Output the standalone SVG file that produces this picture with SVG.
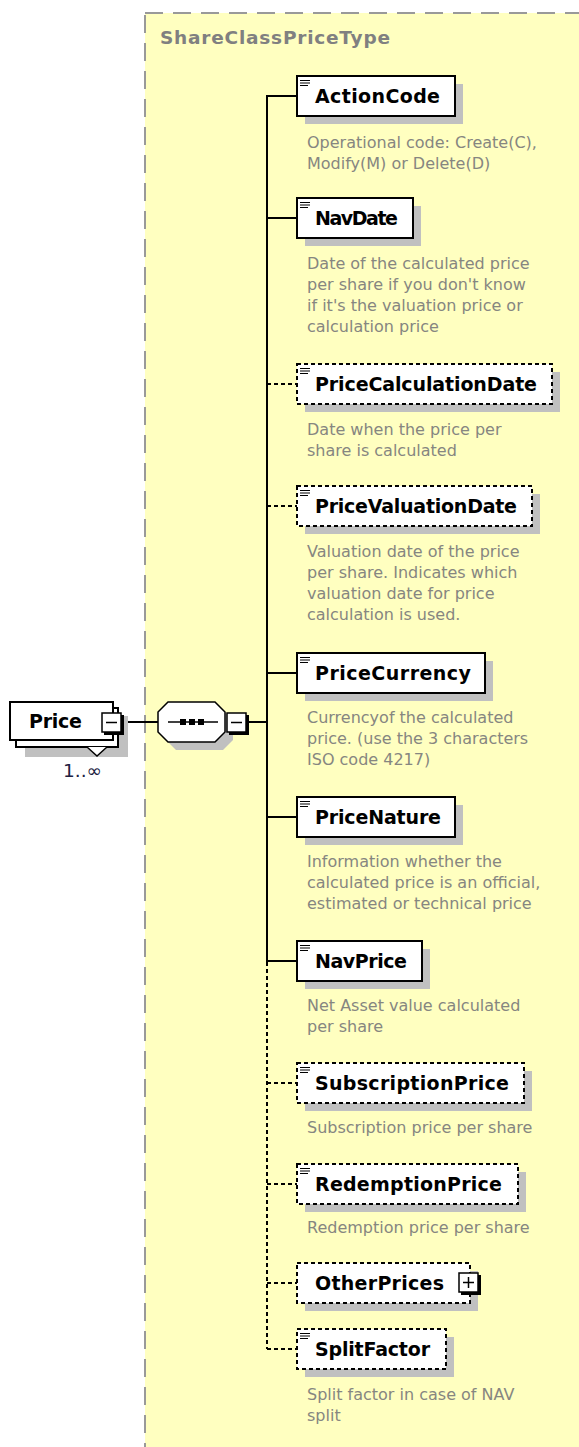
<svg xmlns="http://www.w3.org/2000/svg" width="579" height="1447" viewBox="0 0 579 1447">
<defs>
<style>
.bg{fill:#FFFFC0;stroke:#999999;stroke-width:2;stroke-dasharray:18,10}
.title{font-family:"DejaVu Sans",sans-serif;font-weight:bold;font-size:18.5px;fill:#808080}
.box{fill:#FFFFFF;stroke:#000000;stroke-width:2}
.opt{fill:#FFFFFF;stroke:#000000;stroke-width:2;stroke-dasharray:4,3}
.shadow{fill:#C0C0C0}
.name{font-family:"DejaVu Sans",sans-serif;font-weight:bold;font-size:19px;fill:#000000}
.desc{font-family:"DejaVu Sans",sans-serif;font-size:16px;fill:#868680}
.icon{stroke:#000000;stroke-width:1.2}
.line{stroke:#000000;stroke-width:2;fill:none}
.dline{stroke:#000000;stroke-width:2;fill:none;stroke-dasharray:4,3}
.small{fill:#FFFFFF;stroke:#000000;stroke-width:1.5}
.occ{font-family:"DejaVu Sans",sans-serif;font-size:18px;fill:#202040}
</style>
</defs>

<rect class="bg" x="145" y="13" width="450" height="1450"/>
<text class="title" x="160" y="44" textLength="230" lengthAdjust="spacing">ShareClassPriceType</text>

<g id="connectors">
<line class="line" x1="123" y1="722" x2="158" y2="722"/>
<line class="line" x1="248" y1="722" x2="267" y2="722"/>
<line class="line" x1="267" y1="96" x2="267" y2="962"/>
<line class="dline" x1="267" y1="962" x2="267" y2="1349"/>
<line class="line" x1="266" y1="96" x2="297" y2="96"/>
<line class="line" x1="266" y1="218" x2="297" y2="218"/>
<line class="dline" x1="267" y1="384" x2="297" y2="384"/>
<line class="dline" x1="267" y1="506" x2="297" y2="506"/>
<line class="line" x1="266" y1="673" x2="297" y2="673"/>
<line class="line" x1="266" y1="817" x2="297" y2="817"/>
<line class="line" x1="266" y1="961" x2="297" y2="961"/>
<line class="dline" x1="267" y1="1083" x2="297" y2="1083"/>
<line class="dline" x1="267" y1="1184" x2="297" y2="1184"/>
<line class="dline" x1="267" y1="1283" x2="297" y2="1283"/>
<line class="dline" x1="267" y1="1349" x2="297" y2="1349"/>
</g>

<g id="price">
<rect class="shadow" x="25" y="716" width="103" height="41"/>
<rect class="box" x="16" y="708" width="102" height="39"/>
<polyline points="87,747 97,756 107,747" fill="#FFFFFF" stroke="#000000" stroke-width="1.5"/>
<rect class="box" x="10" y="702" width="103" height="38"/>
<text class="name" x="29" y="728" textLength="53" lengthAdjust="spacing">Price</text>
<rect x="104" y="715" width="20" height="20" fill="#000000"/>
<rect class="small" x="102" y="713" width="19" height="19"/>
<line x1="106" y1="722.5" x2="117" y2="722.5" stroke="#000000" stroke-width="1.5"/>
<text class="occ" x="63" y="777" textLength="39" lengthAdjust="spacingAndGlyphs">1..∞</text>
</g>

<g id="sequence">
<polygon class="shadow" points="176,710 223,710 233,720 233,740 223,750 176,750 166,740 166,720"/>
<polygon points="168,702 215,702 225,712 225,732 215,742 168,742 158,732 158,712" fill="#FFFFFF" stroke="#000000" stroke-width="1.5"/>
<line x1="168" y1="722" x2="218" y2="722" stroke="#000000" stroke-width="1.5"/>
<rect x="180" y="719" width="6" height="6" fill="#000000"/>
<rect x="189" y="719" width="6" height="6" fill="#000000"/>
<rect x="198" y="719" width="6" height="6" fill="#000000"/>
<rect x="229" y="715" width="20" height="20" fill="#000000"/>
<rect class="small" x="227" y="713" width="19" height="19"/>
<line x1="231" y1="722.5" x2="242" y2="722.5" stroke="#000000" stroke-width="1.5"/>
</g>

<g id="ActionCode">
<rect class="shadow" x="305" y="84" width="158" height="40"/>
<rect class="box" x="297" y="76" width="158" height="40"/>
<path class="icon" d="M300,80.5h10M300,83h10M300,85.5h8"/>
<text class="name" x="315" y="103" textLength="125" lengthAdjust="spacing">ActionCode</text>
<text class="desc" x="307" y="148">Operational code: Create(C),</text>
<text class="desc" x="307" y="169">Modify(M) or Delete(D)</text>
</g>

<g id="NavDate">
<rect class="shadow" x="305" y="206" width="116" height="40"/>
<rect class="box" x="297" y="198" width="116" height="40"/>
<path class="icon" d="M300,202.5h10M300,205h10M300,207.5h8"/>
<text class="name" x="315" y="225" textLength="83" lengthAdjust="spacing">NavDate</text>
<text class="desc" x="307" y="269">Date of the calculated price</text>
<text class="desc" x="307" y="290">per share if you don't know</text>
<text class="desc" x="307" y="311">if it's the valuation price or</text>
<text class="desc" x="307" y="332">calculation price</text>
</g>

<g id="PriceCalculationDate">
<rect class="shadow" x="305" y="372" width="255" height="40"/>
<rect class="opt" x="297" y="364" width="255" height="40"/>
<path class="icon" d="M300,368.5h10M300,371h10M300,373.5h8"/>
<text class="name" x="315" y="391" textLength="222" lengthAdjust="spacing">PriceCalculationDate</text>
<text class="desc" x="307" y="435">Date when the price per</text>
<text class="desc" x="307" y="456">share is calculated</text>
</g>

<g id="PriceValuationDate">
<rect class="shadow" x="305" y="494" width="235" height="40"/>
<rect class="opt" x="297" y="486" width="235" height="40"/>
<path class="icon" d="M300,490.5h10M300,493h10M300,495.5h8"/>
<text class="name" x="315" y="513" textLength="202" lengthAdjust="spacing">PriceValuationDate</text>
<text class="desc" x="307" y="557">Valuation date of the price</text>
<text class="desc" x="307" y="578">per share. Indicates which</text>
<text class="desc" x="307" y="599">valuation date for price</text>
<text class="desc" x="307" y="620">calculation is used.</text>
</g>

<g id="PriceCurrency">
<rect class="shadow" x="305" y="661" width="188" height="40"/>
<rect class="box" x="297" y="653" width="188" height="40"/>
<path class="icon" d="M300,657.5h10M300,660h10M300,662.5h8"/>
<text class="name" x="315" y="680" textLength="156" lengthAdjust="spacing">PriceCurrency</text>
<text class="desc" x="307" y="723">Currencyof the calculated</text>
<text class="desc" x="307" y="744">price. (use the 3 characters</text>
<text class="desc" x="307" y="765">ISO code 4217)</text>
</g>

<g id="PriceNature">
<rect class="shadow" x="305" y="805" width="158" height="40"/>
<rect class="box" x="297" y="797" width="158" height="40"/>
<path class="icon" d="M300,801.5h10M300,804h10M300,806.5h8"/>
<text class="name" x="315" y="824" textLength="126" lengthAdjust="spacing">PriceNature</text>
<text class="desc" x="307" y="867">Information whether the</text>
<text class="desc" x="307" y="888">calculated price is an official,</text>
<text class="desc" x="307" y="909">estimated or technical price</text>
</g>

<g id="NavPrice">
<rect class="shadow" x="305" y="949" width="125" height="40"/>
<rect class="box" x="297" y="941" width="125" height="40"/>
<path class="icon" d="M300,945.5h10M300,948h10M300,950.5h8"/>
<text class="name" x="315" y="968" textLength="92" lengthAdjust="spacing">NavPrice</text>
<text class="desc" x="307" y="1011">Net Asset value calculated</text>
<text class="desc" x="307" y="1032">per share</text>
</g>

<g id="SubscriptionPrice">
<rect class="shadow" x="305" y="1071" width="227" height="40"/>
<rect class="opt" x="297" y="1063" width="227" height="40"/>
<path class="icon" d="M300,1067.5h10M300,1070h10M300,1072.5h8"/>
<text class="name" x="315" y="1090" textLength="194" lengthAdjust="spacing">SubscriptionPrice</text>
<text class="desc" x="307" y="1133">Subscription price per share</text>
</g>

<g id="RedemptionPrice">
<rect class="shadow" x="305" y="1172" width="221" height="40"/>
<rect class="opt" x="297" y="1164" width="221" height="40"/>
<path class="icon" d="M300,1168.5h10M300,1171h10M300,1173.5h8"/>
<text class="name" x="315" y="1191" textLength="187" lengthAdjust="spacing">RedemptionPrice</text>
<text class="desc" x="307" y="1233">Redemption price per share</text>
</g>

<g id="OtherPrices">
<rect class="shadow" x="305" y="1271" width="173" height="40"/>
<rect class="opt" x="297" y="1263" width="173" height="40"/>
<text class="name" x="315" y="1290" textLength="129" lengthAdjust="spacing">OtherPrices</text>
<rect x="461" y="1275" width="20" height="20" fill="#000000"/>
<rect class="small" x="459" y="1273" width="19" height="19"/>
<path d="M463,1282.5h11M468.5,1277v11" stroke="#000000" stroke-width="1.5"/>
</g>

<g id="SplitFactor">
<rect class="shadow" x="305" y="1337" width="149" height="40"/>
<rect class="opt" x="297" y="1329" width="149" height="40"/>
<path class="icon" d="M300,1333.5h10M300,1336h10M300,1338.5h8"/>
<text class="name" x="315" y="1356" textLength="115" lengthAdjust="spacing">SplitFactor</text>
<text class="desc" x="307" y="1400">Split factor in case of NAV</text>
<text class="desc" x="307" y="1421">split</text>
</g>
</svg>
